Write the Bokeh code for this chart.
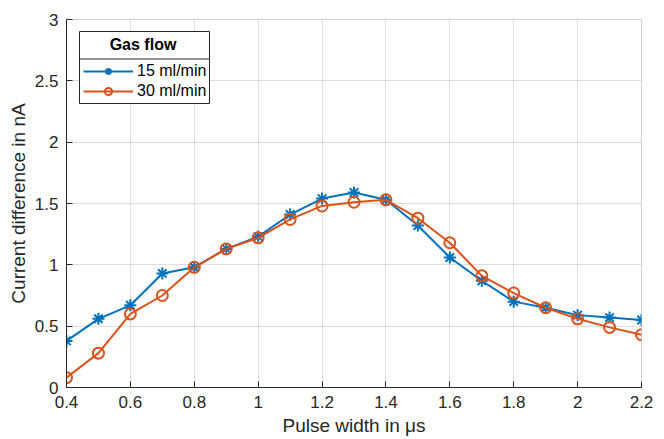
from bokeh.plotting import figure
from bokeh.models import FixedTicker, CustomJSTickFormatter, Legend, LegendItem, BoxAnnotation
from bokeh.embed import file_html
from bokeh.resources import INLINE

pulse_width = [0.4, 0.5, 0.6, 0.7, 0.8, 0.9, 1.0, 1.1, 1.2, 1.3, 1.4, 1.5, 1.6, 1.7, 1.8, 1.9, 2.0, 2.1, 2.2]
flow_15 = [0.38, 0.56, 0.67, 0.93, 0.98, 1.13, 1.23, 1.41, 1.54, 1.59, 1.53, 1.32, 1.06, 0.87, 0.70, 0.65, 0.59, 0.57, 0.55]
flow_30 = [0.08, 0.28, 0.60, 0.75, 0.98, 1.13, 1.22, 1.37, 1.48, 1.51, 1.53, 1.38, 1.18, 0.91, 0.77, 0.65, 0.56, 0.49, 0.43]
x_ticks = [0.4, 0.6, 0.8, 1.0, 1.2, 1.4, 1.6, 1.8, 2.0, 2.2]
y_ticks = [0, 0.5, 1, 1.5, 2, 2.5, 3]
series_names = ["15 ml/min", "30 ml/min"]
legend_title = "Gas flow"

BLUE = "#0072BD"
ORANGE = "#D95319"
FONT = "Liberation Sans"
DARK = "#262626"

p = figure(width=664, height=439, output_backend="svg", toolbar_location=None,
           x_range=(0.4, 2.2), y_range=(0, 3),
           min_border_left=66, min_border_right=23, min_border_top=19, min_border_bottom=52)
p.background_fill_color = "white"
p.border_fill_color = "white"
p.outline_line_color = "#d0d0d0"
p.outline_line_width = 1

l1 = p.line(pulse_width, flow_15, line_color=BLUE, line_width=2)
s1 = p.scatter(pulse_width, flow_15, marker="asterisk", size=12, line_color=BLUE, line_width=2)
l2 = p.line(pulse_width, flow_30, line_color=ORANGE, line_width=2)
s2 = p.scatter(pulse_width, flow_30, marker="circle", size=11, line_color=ORANGE, fill_color=None, line_width=2)

fmt = CustomJSTickFormatter(code="return String(Math.round(tick*10)/10);")
for ax, ticks in ((p.xaxis[0], x_ticks), (p.yaxis[0], y_ticks)):
    ax.ticker = FixedTicker(ticks=ticks)
    ax.formatter = fmt
    ax.major_tick_in = 6
    ax.major_tick_out = 0
    ax.minor_tick_in = 0
    ax.minor_tick_out = 0
    ax.axis_line_color = DARK
    ax.major_tick_line_color = DARK
    ax.major_label_text_font = FONT
    ax.major_label_text_font_size = "17px"
    ax.major_label_text_color = DARK
    ax.axis_label_text_font = FONT
    ax.axis_label_text_font_size = "19px"
    ax.axis_label_text_font_style = "normal"
    ax.axis_label_text_color = DARK

p.xaxis.axis_label = "Pulse width in μs"
p.yaxis.axis_label = "Current difference in nA"
p.xaxis.major_label_standoff = 8
p.yaxis.major_label_standoff = 8
p.xaxis.axis_label_standoff = 4
p.yaxis.axis_label_standoff = 3

p.xgrid.ticker = FixedTicker(ticks=x_ticks)
p.ygrid.ticker = FixedTicker(ticks=y_ticks)
p.grid.grid_line_color = "#000000"
p.grid.grid_line_alpha = 0.13
p.grid.grid_line_width = 1

# legend frame and title separator (screen units relative to the frame's bottom-left)
legend_box = BoxAnnotation(left=13, right=143, bottom=284, top=356,
                           left_units="screen", right_units="screen",
                           bottom_units="screen", top_units="screen",
                           fill_color="white", fill_alpha=1,
                           line_color=DARK, line_width=1, line_alpha=1)
p.add_layout(legend_box)
title_sep = BoxAnnotation(left=13, right=143, bottom=328, top=329,
                          left_units="screen", right_units="screen",
                          bottom_units="screen", top_units="screen",
                          fill_color=DARK, fill_alpha=1, line_alpha=0)
p.add_layout(title_sep)

# non-breaking spaces push the title toward the middle of the box
legend = Legend(items=[LegendItem(label=series_names[0], renderers=[l1, s1]),
                       LegendItem(label=series_names[1], renderers=[l2, s2])],
                location="top_left", title="\u00a0" * 6 + legend_title)
legend.margin = 12
legend.title_text_font = FONT
legend.title_text_font_style = "bold"
legend.title_text_font_size = "16px"
legend.title_text_color = "#000000"
legend.title_standoff = 8
legend.label_text_font = FONT
legend.label_text_font_size = "16px"
legend.label_text_color = "#000000"
legend.label_standoff = 4
legend.glyph_width = 50
legend.glyph_height = 18
legend.label_height = 18
legend.spacing = 2
legend.padding = 5
legend.border_line_alpha = 0
legend.background_fill_alpha = 0
p.add_layout(legend)

open("out.html", "w").write(file_html(p, INLINE))
